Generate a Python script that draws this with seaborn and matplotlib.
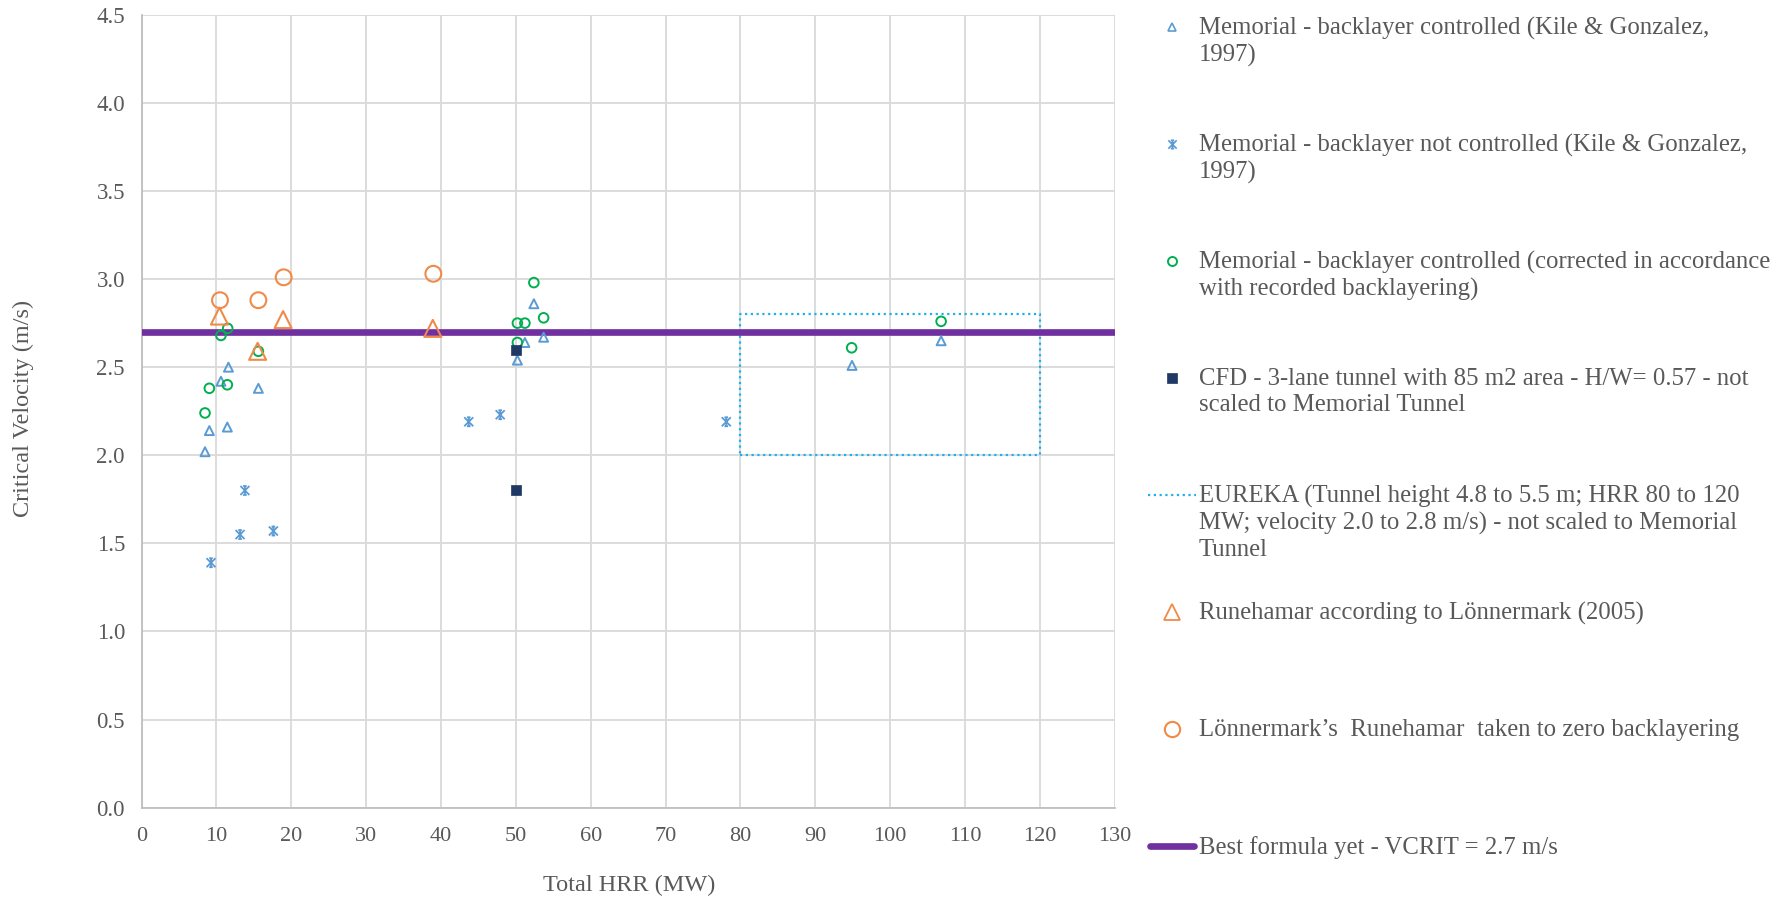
import matplotlib
matplotlib.use('Agg')
import matplotlib.pyplot as plt
import seaborn as sns
import pandas as pd
from matplotlib.lines import Line2D
from matplotlib.path import Path

W, H = 1791, 898
sns.set_theme(style='white')
plt.rcParams['font.family'] = ['Liberation Serif', 'DejaVu Serif']

# ---------------- data ----------------
ctrl_x = [8.47, 9.05, 10.6, 11.6, 11.45, 15.6, 50.2, 51.2, 52.4, 53.7, 94.9, 106.8]
ctrl_y = [2.02, 2.14, 2.42, 2.50, 2.16, 2.38, 2.54, 2.64, 2.86, 2.67, 2.51, 2.65]
notctrl_x = [9.27, 13.15, 13.8, 17.6, 43.7, 47.9, 78.1]
notctrl_y = [1.39, 1.55, 1.80, 1.57, 2.19, 2.23, 2.19]
corr_x = [8.47, 9.05, 10.6, 11.5, 11.45, 15.6, 50.2, 50.2, 51.2, 52.4, 53.7, 94.85, 106.8]
corr_y = [2.24, 2.38, 2.68, 2.72, 2.40, 2.59, 2.64, 2.75, 2.75, 2.98, 2.78, 2.61, 2.76]
cfd_x = [50.0, 50.0]
cfd_y = [2.60, 1.80]
eureka_x = [80, 120, 120, 80, 80]
eureka_y = [2.0, 2.0, 2.8, 2.8, 2.0]
rune_x = [10.4, 15.5, 18.9, 38.9]
rune_y = [2.79, 2.59, 2.77, 2.72]
zero_x = [10.47, 15.6, 18.98, 38.97]
zero_y = [2.88, 2.88, 3.01, 3.03]
best_x = [0, 130]
best_y = [2.7, 2.7]

x_ticks = list(range(0, 131, 10))
y_ticks = [0.0, 0.5, 1.0, 1.5, 2.0, 2.5, 3.0, 3.5, 4.0, 4.5]

labels = [
    "Memorial - backlayer controlled (Kile & Gonzalez,\n1997)",
    "Memorial - backlayer not controlled (Kile & Gonzalez,\n1997)",
    "Memorial - backlayer controlled (corrected in accordance\nwith recorded backlayering)",
    "CFD - 3-lane tunnel with 85 m2 area - H/W= 0.57 - not\nscaled to Memorial Tunnel",
    "EUREKA (Tunnel height 4.8 to 5.5 m; HRR 80 to 120\nMW; velocity 2.0 to 2.8 m/s) - not scaled to Memorial\nTunnel",
    "Runehamar according to Lönnermark (2005)",
    "Lönnermark’s  Runehamar  taken to zero backlayering",
    "Best formula yet - VCRIT = 2.7 m/s",
]

# ---------------- style ----------------
BLUE = '#5B9BD5'
GREEN = '#00B050'
NAVY = '#203864'
CYAN = '#1FB0EC'
ORANGE = '#F08A48'
PURPLE = '#7030A0'
TXT = '#595959'
GRID = '#D9D9D9'
star = Path([(-1, -1), (1, 1), (-1, 1), (1, -1), (0, -0.9), (0, 0.9),
             (-0.4, 1), (0.4, 1), (-0.4, -1), (0.4, -1)],
            [Path.MOVETO, Path.LINETO] * 5)

fig = plt.figure(figsize=(W / 100, H / 100), dpi=100)
ax = fig.add_axes([141.6 / W, 1 - 807.6 / H, (1114.8 - 141.6) / W, (807.6 - 14.8) / H])

sns.lineplot(x=eureka_x, y=eureka_y, sort=False, estimator=None, ax=ax, color=CYAN,
             linestyle=(0, (1, 1.6)), linewidth=1.6, zorder=3)
sns.lineplot(x=best_x, y=best_y, sort=False, estimator=None, ax=ax, color=PURPLE,
             linewidth=4.8, zorder=4)

sns.scatterplot(x=ctrl_x, y=ctrl_y, ax=ax, marker='^', s=42, facecolor='none',
                edgecolor=BLUE, linewidth=1.4, zorder=5)
sns.scatterplot(x=notctrl_x, y=notctrl_y, ax=ax, marker=star, s=42, facecolor='none',
                edgecolor=BLUE, linewidth=1.3, zorder=5)
sns.scatterplot(x=corr_x, y=corr_y, ax=ax, marker='o', s=48, facecolor='none',
                edgecolor=GREEN, linewidth=1.4, zorder=5)
sns.scatterplot(x=cfd_x, y=cfd_y, ax=ax, marker='s', s=48, color=NAVY,
                edgecolor=NAVY, linewidth=0.5, zorder=6)
sns.scatterplot(x=rune_x, y=rune_y, ax=ax, marker='^', s=150, facecolor='none',
                edgecolor=ORANGE, linewidth=1.5, zorder=5)
sns.scatterplot(x=zero_x, y=zero_y, ax=ax, marker='o', s=130, facecolor='none',
                edgecolor=ORANGE, linewidth=1.5, zorder=5)

ax.set_xlim(0, 130)
ax.set_ylim(0, 4.5)
ax.set_xticks(x_ticks)
ax.set_yticks(y_ticks)
ax.set_xticklabels([str(v) for v in x_ticks])
ax.set_yticklabels([f"{v:.1f}" for v in y_ticks])
ax.grid(True, color=GRID, linewidth=1.3)
ax.set_axisbelow(True)
for s in ['top', 'right']:
    ax.spines[s].set_visible(False)
for s in ['left', 'bottom']:
    ax.spines[s].set_color('#BFBFBF')
    ax.spines[s].set_linewidth(1.3)
ax.tick_params(axis='both', length=0, labelsize=16, labelcolor=TXT)
ax.tick_params(axis='y', labelsize=16.5)
ax.tick_params(axis='x', pad=14)
ax.tick_params(axis='y', pad=12)

ax.set_xlabel('Total HRR (MW)', fontsize=17.5, color=TXT)
ax.set_ylabel('Critical Velocity (m/s)', fontsize=17.5, color=TXT)
ax.xaxis.set_label_coords(0.501, -0.0976)
ax.xaxis.label.set_va('center')
ax.yaxis.set_label_coords(-0.1219, 0.504)
ax.yaxis.label.set_va('center')

# ---------------- legend (manual, Excel-like layout) ----------------
y0, step = 26.5, 117.1
mx = 1172 / W
tx = 1199 / W
styles = [
    dict(marker='^', ms=6, mfc='none', mec=BLUE, mew=1.2),
    dict(marker=star, ms=6, mfc='none', mec=BLUE, mew=1.2),
    dict(marker='o', ms=6.5, mfc='none', mec=GREEN, mew=1.4),
    dict(marker='s', ms=7, mfc=NAVY, mec=NAVY, mew=0.5),
    'eureka',
    dict(marker='^', ms=11, mfc='none', mec=ORANGE, mew=1.3),
    dict(marker='o', ms=11, mfc='none', mec=ORANGE, mew=1.5),
    'best',
]
for i, (lab, st) in enumerate(zip(labels, styles)):
    yc = 1 - (y0 + i * step) / H
    if st == 'eureka':
        fig.add_artist(Line2D([1148 / W, 1196 / W], [yc, yc], transform=fig.transFigure,
                              color=CYAN, linestyle=(0, (1, 1.6)), linewidth=1.6))
    elif st == 'best':
        fig.add_artist(Line2D([1150 / W, 1194 / W], [yc, yc], transform=fig.transFigure,
                              color=PURPLE, linewidth=4.8, solid_capstyle='round'))
    else:
        fig.add_artist(Line2D([mx], [yc], transform=fig.transFigure, linestyle='none', **st))
    fig.text(tx, yc + 10 / H, lab, fontsize=17.8, color=TXT, va='top', ha='left',
             linespacing=1.24)

fig.savefig('out.png', dpi=100)
